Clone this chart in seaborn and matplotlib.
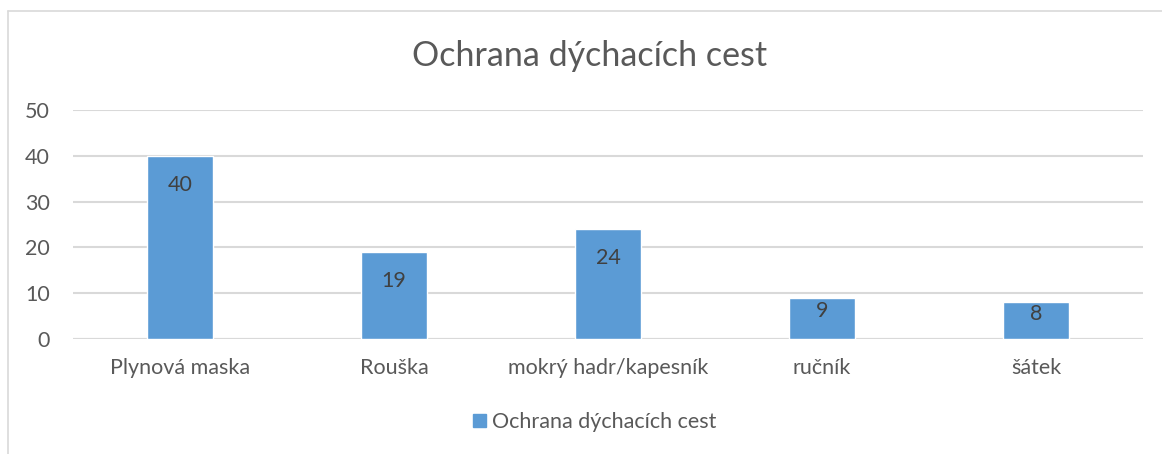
import matplotlib
matplotlib.use("Agg")
import matplotlib.pyplot as plt
import seaborn as sns
import pandas as pd
from matplotlib.patches import Rectangle
from matplotlib.lines import Line2D

# data
categories = ["Plynová maska", "Rouška", "mokrý hadr/kapesník", "ručník", "šátek"]
values = [40, 19, 24, 9, 8]
series_name = "Ochrana dýchacích cest"
title = "Ochrana dýchacích cest"
yticks = [0, 10, 20, 30, 40, 50]

bar_color = "#5b9bd5"
text_color = "#595959"
grid_color = "#d9d9d9"

sns.set_style("white")
plt.rcParams["font.family"] = ["Lato", "DejaVu Sans"]

df = pd.DataFrame({"cat": categories, "val": values})

W, H = 1162, 454
fig = plt.figure(figsize=(W / 100, H / 100), dpi=100)
ax = fig.add_axes([73 / W, 1 - 339 / H, (1143 - 73) / W, (339 - 110) / H])

sns.barplot(data=df, x="cat", y="val", color=bar_color, saturation=1,
            width=0.31, ax=ax, zorder=3)

ax.set_ylim(0, 50)
ax.set_xlim(-0.5, len(categories) - 0.5)
ax.set_yticks(yticks)
ax.yaxis.grid(True, color=grid_color, lw=1.5, zorder=0)
ax.set_axisbelow(True)
for s in ax.spines.values():
    s.set_visible(False)
ax.axhline(0, color=grid_color, lw=1.5, zorder=1)
ax.set_xlabel("")
ax.set_ylabel("")
ax.tick_params(axis="both", length=0, labelsize=15.5, colors=text_color)
ax.tick_params(axis="x", pad=14)
ax.tick_params(axis="y", pad=16.5)

# value labels just inside the bar tops
px_per_unit = (339 - 110) / 50
for p, v in zip(ax.patches, values):
    hpx = v * px_per_unit
    off = min(29, hpx * 0.33)
    ax.annotate(str(v), (p.get_x() + p.get_width() / 2, v),
                xytext=(0, -off * 0.72), textcoords="offset points",
                ha="center", va="center", fontsize=15.5, color="#404040", zorder=4)

fig.text(590 / W, 1 - 56 / H, title, ha="center", va="center",
         fontsize=24.5, color=text_color)

handle = Rectangle((0, 0), 1, 1, color=bar_color)
fig.legend([handle], [series_name], loc="center", bbox_to_anchor=(595 / W, 1 - 422 / H),
           frameon=False, fontsize=15.5, labelcolor=text_color,
           handlelength=0.6, handleheight=0.6, handletextpad=0.3)

# chart area border (cut at right and bottom)
fig.add_artist(Line2D([8 / W, 8 / W], [0, 1 - 11 / H], color=grid_color, lw=1.2,
                      transform=fig.transFigure))
fig.add_artist(Line2D([8 / W, 1], [1 - 11 / H, 1 - 11 / H], color=grid_color, lw=1.2,
                      transform=fig.transFigure))

fig.savefig("out.png", dpi=100)
